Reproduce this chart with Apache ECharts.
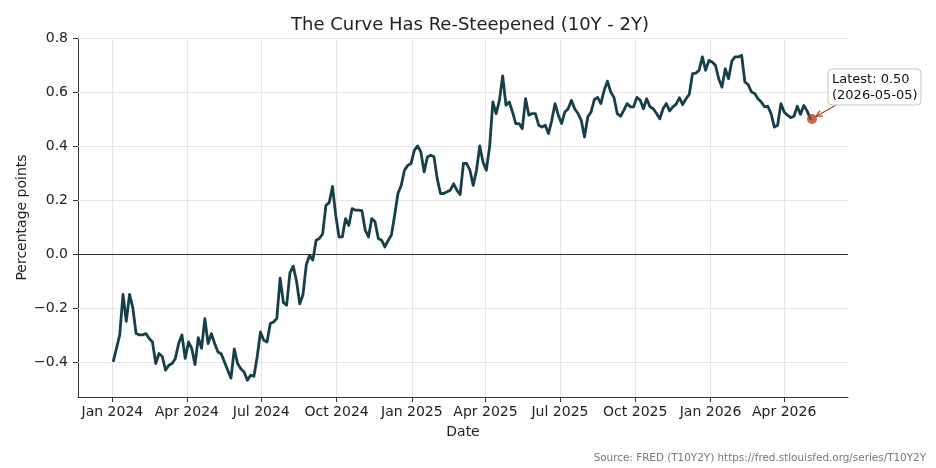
<!DOCTYPE html>
<html><head><meta charset="utf-8">
<script src="https://cdn.jsdelivr.net/npm/echarts@6/dist/echarts.min.js"></script>
<style>html,body{margin:0;padding:0;background:#fff}#c{width:936px;height:468px}</style>
</head><body><div id="c"></div>
<script>
const titleText = 'The Curve Has Re-Steepened (10Y - 2Y)';
const sourceText = 'Source: FRED (T10Y2Y) https://fred.stlouisfed.org/series/T10Y2Y';
const xAxisName = 'Date';
const yAxisName = 'Percentage points';

// Spread readings, one every 4 calendar days starting 2024-01-02
const sampleStart = [2024, 1, 2];
const sampleStepDays = 4;
const spreadValues = [
 -0.40,-0.35,-0.30,-0.15,-0.25,-0.15,-0.20,-0.295,-0.30,-0.30,
 -0.295,-0.313,-0.326,-0.406,-0.369,-0.38,-0.431,-0.412,-0.406,-0.387,
 -0.332,-0.30,-0.387,-0.326,-0.35,-0.41,-0.31,-0.35,-0.24,-0.332,
 -0.295,-0.332,-0.363,-0.37,-0.40,-0.431,-0.46,-0.352,-0.406,-0.425,
 -0.437,-0.468,-0.449,-0.453,-0.381,-0.289,-0.32,-0.326,-0.258,-0.252,
 -0.239,-0.09,-0.18,-0.19,-0.07,-0.045,-0.10,-0.185,-0.15,-0.04,
 -0.005,-0.023,0.051,0.057,0.075,0.18,0.19,0.25,0.143,0.063,
 0.063,0.131,0.106,0.168,0.162,0.162,0.16,0.088,0.063,0.131,
 0.119,0.057,0.051,0.026,0.05,0.07,0.143,0.224,0.254,0.31,
 0.328,0.335,0.384,0.40,0.378,0.304,0.359,0.366,0.36,0.279,
 0.224,0.224,0.23,0.236,0.26,0.236,0.22,0.335,0.335,0.31,
 0.254,0.31,0.40,0.34,0.31,0.396,0.563,0.52,0.569,0.66,
 0.551,0.563,0.526,0.483,0.483,0.464,0.575,0.514,0.52,0.52,
 0.477,0.47,0.477,0.446,0.495,0.557,0.514,0.483,0.526,0.538,
 0.569,0.538,0.52,0.495,0.433,0.508,0.526,0.572,0.58,0.557,
 0.606,0.64,0.60,0.58,0.52,0.51,0.532,0.557,0.545,0.545,
 0.58,0.57,0.538,0.575,0.545,0.538,0.52,0.501,0.538,0.557,
 0.53,0.545,0.555,0.579,0.553,0.575,0.591,0.668,0.67,0.68,
 0.73,0.68,0.717,0.711,0.699,0.649,0.618,0.686,0.649,0.714,
 0.73,0.73,0.736,0.637,0.627,0.60,0.594,0.575,0.563,0.545,
 0.547,0.52,0.47,0.477,0.557,0.526,0.514,0.505,0.51,0.547,
 0.517,0.55,0.53,0.501
];
const latestDate = '2026-05-05';
const latestValue = 0.50;

const xTickDates = ['2024-01-01','2024-04-01','2024-07-01','2024-10-01','2025-01-01','2025-04-01','2025-07-01','2025-10-01','2026-01-01','2026-04-01'];
const xTickLabels = ['Jan 2024','Apr 2024','Jul 2024','Oct 2024','Jan 2025','Apr 2025','Jul 2025','Oct 2025','Jan 2026','Apr 2026'];
const yTickValues = [-0.4,-0.2,0,0.2,0.4,0.6,0.8];
const xRange = ['2023-11-20','2026-06-18'];
const yRange = [-0.53, 0.80];

function ts(s){ const p = s.split('-').map(Number); return Date.UTC(p[0], p[1]-1, p[2]); }

const lineData = spreadValues.map((v, i) => [Date.UTC(sampleStart[0], sampleStart[1]-1, sampleStart[2] + i*sampleStepDays), v]);
lineData.push([ts(latestDate), latestValue]);
const xTickTs = xTickDates.map(ts);

const FONT = 'DejaVu Sans';
const chart = echarts.init(document.getElementById('c'), null, {renderer:'canvas'});
chart.setOption({
  animation: false,
  backgroundColor: '#ffffff',
  title: { text: titleText, left: 465, top: 11, textAlign: 'center',
    textStyle: { fontFamily: FONT, fontSize: 18, fontWeight: 'normal', color: '#222' } },
  grid: { left: 78, right: 88, top: 38, bottom: 71, containLabel: false },
  xAxis: {
    type: 'value', min: ts(xRange[0]), max: ts(xRange[1]),
    name: xAxisName, nameLocation: 'middle', nameGap: 28, nameMoveOverlap: false,
    nameTextStyle: { fontFamily: FONT, fontSize: 14, color: '#222' },
    axisLine: { show: true, onZero: false, lineStyle: { color: '#333', width: 1 } },
    axisTick: { show: true, length: 5, customValues: xTickTs, lineStyle: { color: '#333' } },
    axisLabel: { customValues: xTickTs, margin: 8, fontFamily: FONT, fontSize: 14, color: '#222',
      hideOverlap: false, showMinLabel: true, showMaxLabel: true,
      formatter: function (v) { const i = xTickTs.indexOf(v); return i >= 0 ? xTickLabels[i] : ''; } },
    splitLine: { show: false }
  },
  yAxis: {
    type: 'value', min: yRange[0], max: yRange[1],
    name: yAxisName, nameLocation: 'middle', nameGap: 49, nameRotate: 90, nameMoveOverlap: false,
    nameTextStyle: { fontFamily: FONT, fontSize: 14, color: '#222' },
    axisLine: { show: true, onZero: false, lineStyle: { color: '#333', width: 1 } },
    axisTick: { show: true, length: 5, customValues: yTickValues, lineStyle: { color: '#333' } },
    axisLabel: { customValues: yTickValues, margin: 10, fontFamily: FONT, fontSize: 14, color: '#222',
      formatter: function (v) { return v < 0 ? '\u2212' + Math.abs(v).toFixed(1) : v.toFixed(1); } },
    splitLine: { show: false }
  },
  series: [
    { type: 'line', data: lineData, showSymbol: false, symbol: 'none',
      lineStyle: { color: '#173f48', width: 2.8, join: 'round' }, z: 3,
      markLine: { silent: true, symbol: ['none','none'], label: { show: false }, z: 1,
        data: xTickTs.map(t => ({ xAxis: t, lineStyle: { color: '#e6e6e6', width: 1, type: 'solid' } }))
          .concat(yTickValues.map(v => ({ yAxis: v, lineStyle: v === 0 ? { color: '#333', width: 1.2, type: 'solid' } : { color: '#e6e6e6', width: 1, type: 'solid' } }))) } },
    { type: 'scatter', data: [[ts(latestDate), latestValue]], symbolSize: 10,
      itemStyle: { color: '#b5452b' }, z: 5 }
  ]
});

const pt = chart.convertToPixel({ gridIndex: 0 }, [ts(latestDate), latestValue]);
const px = pt[0], py = pt[1];
const sx = px + 24, sy = py - 14, ex = px + 4, ey = py - 2.5;
const dx = ex - sx, dy = ey - sy, L = Math.hypot(dx, dy), ux = dx / L, uy = dy / L;
const ah = 7, aw = 0.45;
function rot(a){ return [ -(ux*Math.cos(a) - uy*Math.sin(a)), -(ux*Math.sin(a) + uy*Math.cos(a)) ]; }
const r1 = rot(aw), r2 = rot(-aw);
chart.setOption({
  graphic: [
    { type: 'line', shape: { x1: sx, y1: sy, x2: ex, y2: ey }, style: { stroke: '#b5452b', lineWidth: 1.3 }, z: 10 },
    { type: 'polyline', shape: { points: [[ex + r1[0]*ah, ey + r1[1]*ah], [ex, ey], [ex + r2[0]*ah, ey + r2[1]*ah]] },
      style: { stroke: '#b5452b', lineWidth: 1.3, fill: null }, z: 10 },
    { type: 'rect', shape: { x: px + 16, y: py - 50, width: 93, height: 36, r: 4 },
      style: { fill: '#ffffff', stroke: '#c8c8c0', lineWidth: 1 }, z: 11 },
    { type: 'text', x: px + 20, y: py - 47, z: 12,
      style: { text: 'Latest: ' + latestValue.toFixed(2) + '\n(' + latestDate + ')', font: '13px "DejaVu Sans"',
        fill: '#111', lineHeight: 15.5, textVerticalAlign: 'top' } },
    { type: 'text', x: 926, y: 458, z: 12,
      style: { text: sourceText, font: '10.4px "DejaVu Sans"', fill: '#777', textAlign: 'right', textVerticalAlign: 'middle' } }
  ]
});
</script></body></html>
